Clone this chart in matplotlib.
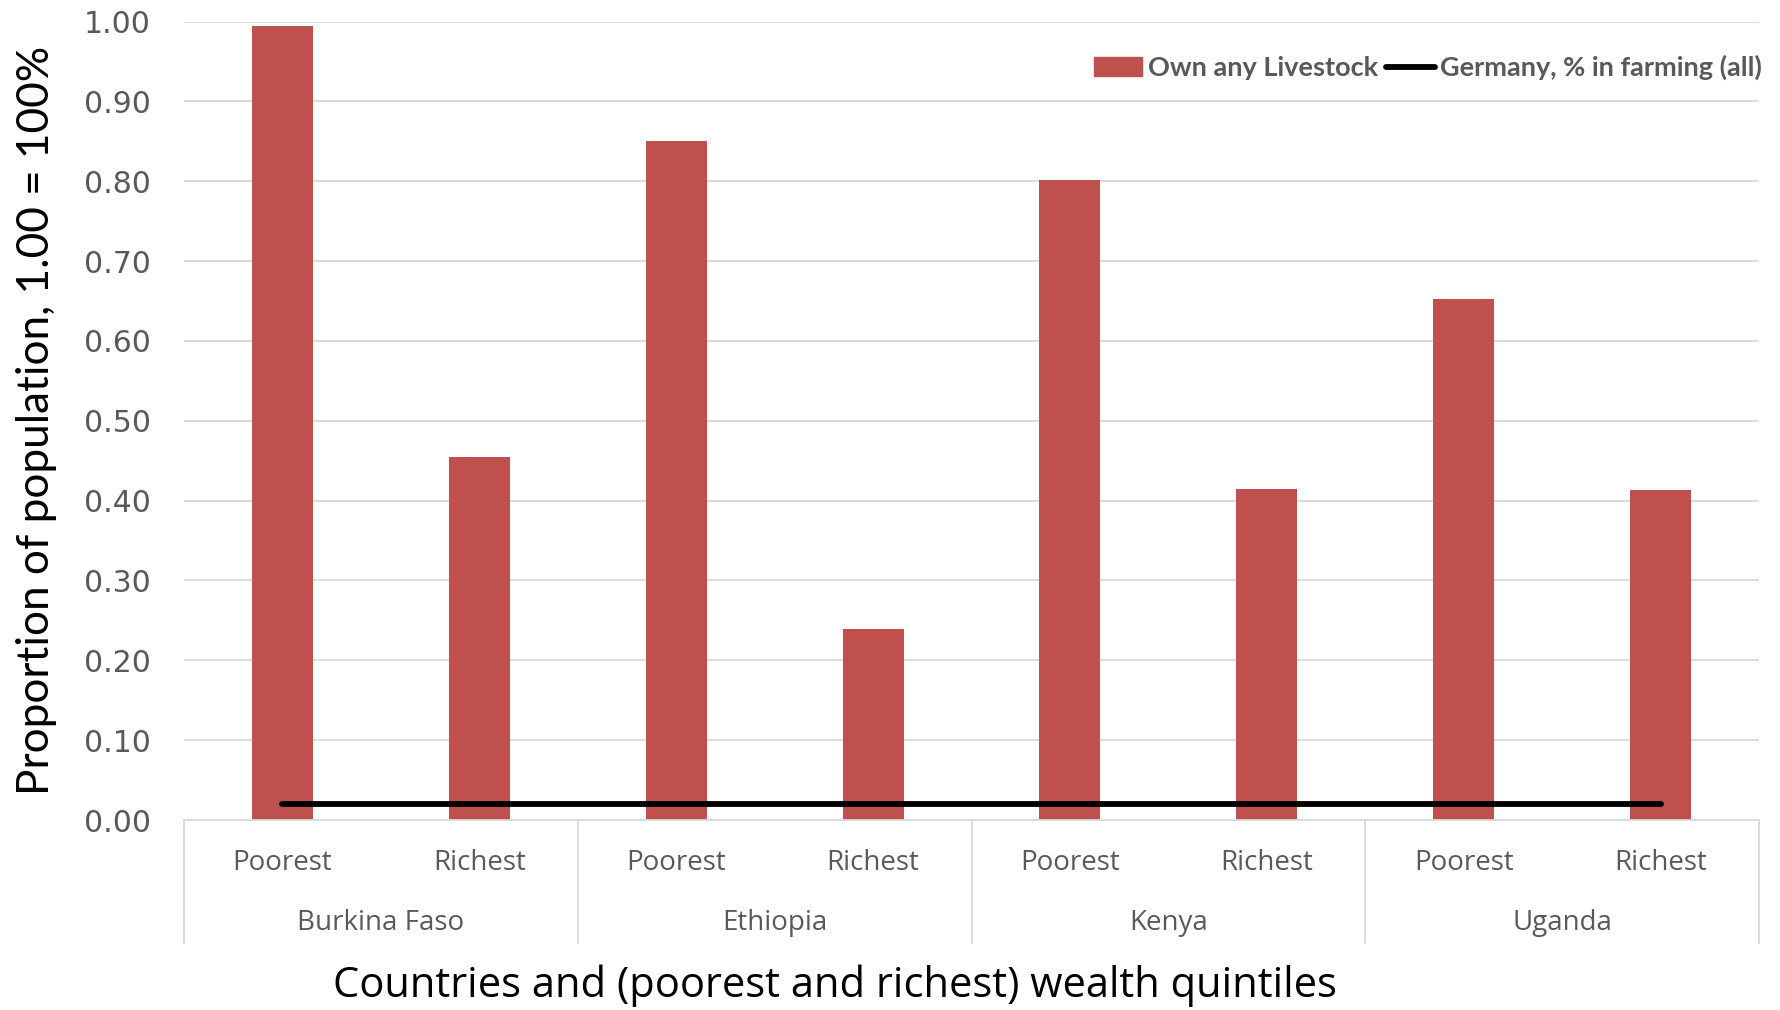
import matplotlib
matplotlib.use("Agg")
import matplotlib.pyplot as plt
from matplotlib.transforms import blended_transform_factory
from matplotlib.patches import Patch
from matplotlib.lines import Line2D


countries = ["Burkina Faso", "Ethiopia", "Kenya", "Uganda"]
quintiles = ["Poorest", "Richest"]
livestock = [0.995, 0.455, 0.851, 0.239, 0.802, 0.414, 0.653, 0.413]
germany_farming = [0.02] * 8
y_ticks = [0.0, 0.1, 0.2, 0.3, 0.4, 0.5, 0.6, 0.7, 0.8, 0.9, 1.0]

BAR_COLOR = "#C0504D"
GRID_COLOR = "#D9D9D9"
TEXT_GRAY = "#595959"


def main():
    fig = plt.figure(figsize=(17.81, 10.10), dpi=100)
    ax = fig.add_axes([0.1033, 0.1881, 0.8844, 0.7905])

    x = list(range(len(livestock)))
    ax.bar(x, livestock, width=0.31, color=BAR_COLOR, zorder=2)
    ax.plot(x, germany_farming, color="black", lw=4.2, solid_capstyle="round", zorder=3)

    ax.set_xlim(-0.5, len(livestock) - 0.5)
    ax.set_ylim(0, 1.0)
    ax.set_yticks(y_ticks)
    ax.set_yticklabels([f"{v:.2f}" for v in y_ticks], fontsize=21.5, color=TEXT_GRAY,
                       family="DejaVu Sans")
    ax.tick_params(axis="y", length=0, pad=24)
    ax.set_xticks([])
    ax.grid(axis="y", color=GRID_COLOR, lw=1.3, zorder=0)
    for side in ["left", "right", "top"]:
        ax.spines[side].set_visible(False)
    ax.spines["bottom"].set_color(GRID_COLOR)
    ax.spines["bottom"].set_linewidth(1.3)

    # two-level category axis
    trans = blended_transform_factory(ax.transData, ax.transAxes)
    labels = [q for _ in countries for q in quintiles]
    for xi, lab in zip(x, labels):
        ax.text(xi, -0.054, lab, transform=trans, ha="center", va="center",
                fontsize=20, color=TEXT_GRAY, family="Open Sans")
    for i, c in enumerate(countries):
        ax.text(2 * i + 0.5, -0.129, c, transform=trans, ha="center", va="center",
                fontsize=20, color=TEXT_GRAY, family="Open Sans")
    for i in range(len(countries) + 1):
        ax.plot([2 * i - 0.5, 2 * i - 0.5], [0, -0.154], transform=trans,
                color=GRID_COLOR, lw=1.3, clip_on=False)

    ax.set_ylabel("Proportion of population, 1.00 = 100%", fontsize=31.8,
                  family="Lato", labelpad=19)
    fig.text(0.469, 0.024, "Countries and (poorest and richest) wealth quintiles",
             ha="center", va="center", fontsize=30, family="Open Sans")

    handles = [Patch(color=BAR_COLOR), Line2D([0], [0], color="black", lw=4.2,
                                              solid_capstyle="round")]
    leg = ax.legend(handles, ["Own any Livestock", "Germany, % in farming (all)"],
                    loc="upper right", bbox_to_anchor=(1.014, 0.982), ncol=2, frameon=False,
                    prop={"family": "Lato", "weight": "bold", "size": 19.5},
                    handlelength=1.8, handletextpad=0.2, columnspacing=0.3,
                    borderaxespad=0.3)
    for t in leg.get_texts():
        t.set_color(TEXT_GRAY)

    fig.savefig("out.png", dpi=100)


if __name__ == "__main__":
    main()
